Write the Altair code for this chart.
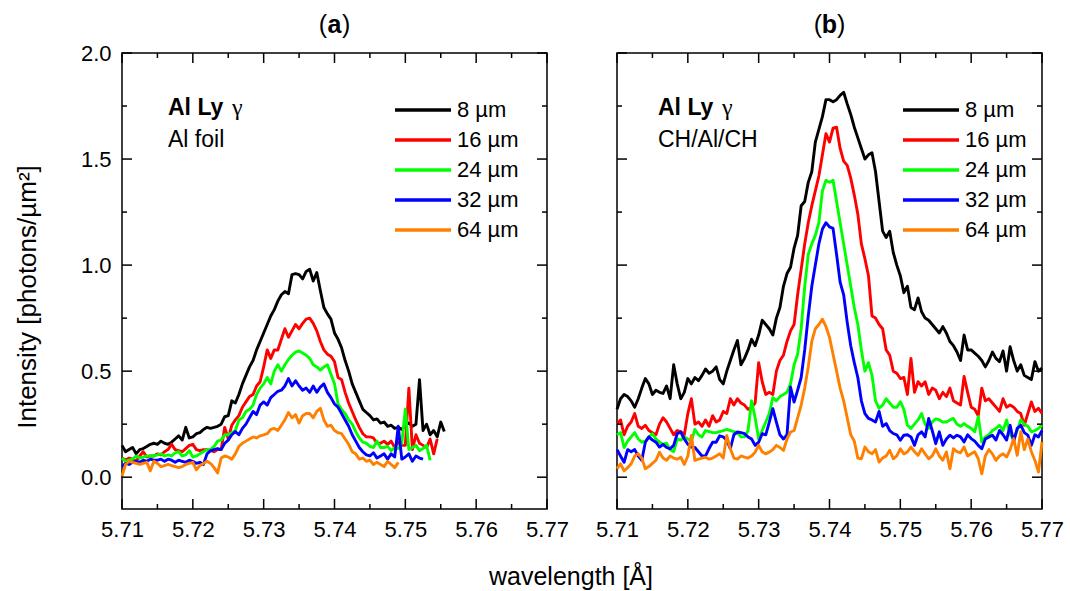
import altair as alt
import pandas as pd

FONT = "Liberation Sans"
WL0 = 5.71
STEP = 0.0005

names = ["8 µm", "16 µm", "24 µm", "32 µm", "64 µm"]
colors = ["#000000", "#ff0000", "#00ff00", "#0000ff", "#ff8000"]

x_major = [5.71, 5.72, 5.73, 5.74, 5.75, 5.76, 5.77]
x_minor = [5.715, 5.725, 5.735, 5.745, 5.755, 5.765]
y_major = [0.0, 0.5, 1.0, 1.5, 2.0]
y_minor = [0.25, 0.75, 1.25, 1.75]

# ---------- panel (a): Al foil ----------
black_a = [0.15,0.12,0.13,0.14,0.11,0.13,0.135,0.145,0.155,0.16,
0.155,0.17,0.16,0.155,0.165,0.18,0.195,0.175,0.235,0.185,
0.19,0.205,0.21,0.225,0.235,0.23,0.235,0.24,0.25,0.285,
0.29,0.36,0.35,0.39,0.44,0.48,0.52,0.55,0.6,0.64,
0.68,0.72,0.76,0.79,0.83,0.86,0.875,0.865,0.955,0.96,
0.955,0.935,0.97,0.98,0.925,0.965,0.88,0.8,0.77,0.745,
0.68,0.65,0.61,0.55,0.5,0.44,0.4,0.36,0.32,0.305,
0.29,0.27,0.275,0.255,0.26,0.24,0.245,0.23,0.235,0.225,
0.245,0.255,0.24,0.25,0.46,0.22,0.25,0.2,0.22,0.19,
0.26,0.215]
red_a = [0.09,0.08,0.09,0.085,0.075,0.1,0.12,0.095,0.1,0.1,
0.11,0.105,0.12,0.13,0.155,0.13,0.125,0.12,0.135,0.15,
0.155,0.13,0.125,0.13,0.13,0.125,0.12,0.13,0.13,0.235,
0.18,0.245,0.27,0.29,0.33,0.355,0.38,0.39,0.43,0.45,
0.52,0.6,0.56,0.6,0.6,0.65,0.7,0.66,0.69,0.72,
0.7,0.725,0.745,0.75,0.725,0.69,0.64,0.6,0.58,0.57,
0.545,0.47,0.46,0.4,0.35,0.31,0.27,0.235,0.205,0.19,
0.19,0.185,0.16,0.16,0.17,0.155,0.17,0.14,0.165,0.15,
0.15,0.42,0.13,0.2,0.16,0.15,0.14,0.18,0.11,0.18]
green_a = [0.09,0.075,0.08,0.085,0.1,0.09,0.095,0.1,0.1,0.1,
0.105,0.11,0.1,0.105,0.1,0.115,0.12,0.1,0.105,0.125,
0.095,0.1,0.11,0.12,0.13,0.13,0.145,0.17,0.175,0.2,
0.2,0.21,0.22,0.27,0.28,0.31,0.32,0.34,0.39,0.42,
0.44,0.47,0.44,0.5,0.53,0.5,0.53,0.555,0.575,0.59,
0.595,0.585,0.575,0.56,0.53,0.52,0.505,0.52,0.53,0.485,
0.44,0.345,0.32,0.3,0.27,0.25,0.215,0.185,0.165,0.16,
0.145,0.14,0.17,0.14,0.14,0.145,0.125,0.14,0.135,0.16,
0.32,0.13,0.14,0.15,0.125,0.135,0.15,0.08]
blue_a = [0.05,0.065,0.06,0.07,0.075,0.07,0.08,0.075,0.085,0.08,
0.08,0.085,0.075,0.085,0.08,0.07,0.08,0.075,0.07,0.08,
0.075,0.065,0.07,0.06,0.11,0.125,0.13,0.135,0.13,0.16,
0.175,0.2,0.215,0.2,0.23,0.25,0.28,0.31,0.295,0.34,
0.355,0.34,0.375,0.39,0.405,0.41,0.43,0.465,0.43,0.455,
0.43,0.41,0.42,0.4,0.43,0.4,0.425,0.44,0.4,0.375,
0.345,0.33,0.3,0.27,0.24,0.2,0.17,0.14,0.12,0.105,
0.1,0.115,0.09,0.1,0.11,0.085,0.11,0.095,0.24,0.085,
0.095,0.11,0.075,0.1,0.09,0.085]
orange_a = [0.005,0.06,0.075,0.07,0.065,0.06,0.065,0.07,0.03,0.075,
0.065,0.05,0.055,0.06,0.055,0.05,0.045,0.05,0.06,0.065,
0.07,0.035,0.055,0.065,0.075,0.065,0.045,0.02,0.09,0.1,
0.095,0.085,0.11,0.145,0.16,0.17,0.18,0.19,0.185,0.195,
0.2,0.205,0.225,0.23,0.22,0.245,0.27,0.305,0.28,0.295,
0.255,0.29,0.3,0.3,0.28,0.31,0.325,0.27,0.24,0.245,
0.22,0.21,0.205,0.18,0.155,0.12,0.11,0.085,0.09,0.075,
0.08,0.06,0.07,0.06,0.05,0.075,0.06,0.045,0.07]

# ---------- panel (b): CH/Al/CH ----------
black_b = [0.32,0.37,0.39,0.38,0.36,0.33,0.37,0.42,0.465,0.44,
0.39,0.41,0.4,0.395,0.43,0.37,0.53,0.44,0.37,0.4,
0.465,0.44,0.47,0.455,0.48,0.51,0.49,0.5,0.52,0.46,
0.44,0.5,0.55,0.6,0.645,0.53,0.56,0.6,0.65,0.62,
0.67,0.74,0.72,0.7,0.67,0.75,0.8,0.9,0.96,0.99,
1.08,1.14,1.28,1.3,1.39,1.44,1.58,1.64,1.7,1.78,
1.78,1.77,1.78,1.8,1.815,1.76,1.71,1.65,1.6,1.55,
1.5,1.52,1.53,1.44,1.3,1.16,1.13,1.16,1.06,1.0,
0.95,0.87,0.9,0.8,0.79,0.845,0.78,0.75,0.74,0.72,
0.7,0.68,0.71,0.68,0.64,0.62,0.59,0.55,0.67,0.6,
0.6,0.585,0.57,0.55,0.52,0.55,0.59,0.56,0.545,0.595,
0.5,0.615,0.55,0.5,0.53,0.48,0.47,0.46,0.545,0.5,
0.515]
red_b = [0.25,0.27,0.2,0.24,0.26,0.3,0.24,0.23,0.245,0.22,
0.21,0.2,0.25,0.28,0.26,0.23,0.2,0.22,0.215,0.2,
0.3,0.37,0.25,0.26,0.24,0.27,0.24,0.29,0.26,0.27,
0.31,0.3,0.37,0.34,0.37,0.35,0.34,0.32,0.33,0.35,
0.54,0.45,0.39,0.4,0.39,0.5,0.55,0.575,0.64,0.69,
0.72,0.86,0.98,1.1,1.2,1.28,1.35,1.42,1.52,1.62,
1.58,1.646,1.65,1.55,1.49,1.47,1.41,1.33,1.24,1.1,
1.03,0.95,0.76,0.75,0.72,0.7,0.6,0.575,0.5,0.49,
0.465,0.47,0.39,0.56,0.4,0.45,0.43,0.45,0.39,0.42,
0.41,0.37,0.4,0.38,0.42,0.36,0.35,0.34,0.475,0.4,
0.33,0.32,0.29,0.42,0.36,0.37,0.35,0.33,0.31,0.37,
0.33,0.34,0.33,0.31,0.3,0.245,0.3,0.355,0.31,0.325,
0.3]
green_b = [0.2,0.21,0.14,0.17,0.19,0.21,0.18,0.165,0.17,0.19,
0.205,0.18,0.165,0.155,0.16,0.13,0.12,0.18,0.175,0.19,
0.18,0.17,0.225,0.2,0.19,0.22,0.215,0.21,0.21,0.215,
0.22,0.225,0.22,0.215,0.21,0.19,0.19,0.22,0.36,0.28,
0.18,0.22,0.26,0.3,0.375,0.36,0.38,0.39,0.4,0.44,
0.53,0.58,0.7,0.9,1.05,1.1,1.14,1.2,1.35,1.4,
1.39,1.4,1.3,1.2,1.1,1.0,0.9,0.8,0.72,0.6,
0.5,0.54,0.48,0.36,0.325,0.34,0.37,0.35,0.33,0.33,
0.356,0.32,0.245,0.23,0.25,0.27,0.3,0.25,0.23,0.26,
0.275,0.27,0.26,0.26,0.27,0.277,0.25,0.24,0.253,0.24,
0.23,0.214,0.285,0.166,0.19,0.2,0.22,0.23,0.245,0.22,
0.27,0.2,0.182,0.22,0.27,0.25,0.24,0.214,0.22,0.23,
0.245]
blue_b = [0.13,0.1,0.07,0.13,0.12,0.13,0.1,0.08,0.165,0.19,
0.175,0.165,0.142,0.155,0.14,0.134,0.15,0.205,0.213,0.18,
0.155,0.142,0.14,0.12,0.1,0.1,0.135,0.165,0.165,0.195,
0.19,0.175,0.134,0.2,0.213,0.21,0.205,0.19,0.18,0.15,
0.165,0.205,0.2,0.26,0.323,0.26,0.2,0.18,0.2,0.425,
0.354,0.41,0.47,0.6,0.76,0.9,1.0,1.1,1.17,1.2,
1.18,1.173,1.05,0.92,0.86,0.73,0.62,0.54,0.47,0.36,
0.3,0.277,0.27,0.26,0.31,0.24,0.253,0.22,0.206,0.2,
0.174,0.198,0.2,0.19,0.15,0.2,0.214,0.19,0.277,0.22,
0.158,0.214,0.15,0.18,0.198,0.185,0.198,0.19,0.166,0.2,
0.182,0.17,0.15,0.134,0.18,0.19,0.198,0.175,0.22,0.2,
0.175,0.245,0.166,0.23,0.245,0.21,0.198,0.15,0.2,0.19,
0.22]
orange_b = [0.04,0.063,0.03,0.045,0.063,0.1,0.11,0.09,0.04,0.05,
0.065,0.08,0.118,0.09,0.08,0.1,0.09,0.085,0.094,0.06,
0.1,0.197,0.079,0.085,0.09,0.094,0.085,0.09,0.1,0.11,
0.09,0.197,0.134,0.09,0.085,0.1,0.095,0.09,0.1,0.118,
0.15,0.12,0.11,0.118,0.13,0.15,0.14,0.126,0.18,0.213,
0.22,0.28,0.34,0.42,0.52,0.64,0.7,0.72,0.745,0.71,
0.66,0.58,0.5,0.42,0.36,0.28,0.2,0.17,0.09,0.087,
0.142,0.12,0.11,0.13,0.071,0.09,0.1,0.127,0.087,0.1,
0.134,0.11,0.119,0.142,0.12,0.103,0.134,0.11,0.087,0.1,
0.134,0.1,0.08,0.119,0.04,0.134,0.12,0.115,0.142,0.1,
0.11,0.12,0.087,0.016,0.1,0.13,0.11,0.079,0.1,0.11,
0.095,0.13,0.182,0.103,0.214,0.13,0.18,0.12,0.079,0.024,
0.166]

W, H = 425, 456
MAJ, MIN = 10, 5

xscale = alt.Scale(domain=[5.71, 5.77], nice=False, zero=False)
yscale = alt.Scale(domain=[-0.15, 2.0], nice=False, zero=False)

XAXIS = alt.Axis(values=x_major, format=".2f", ticks=False, domain=False, grid=False,
                 labelFont=FONT, labelFontSize=22, labelColor="black",
                 labelPadding=10, labelFlush=False, title=None)
YAXIS = alt.Axis(values=y_major, format=".1f", ticks=False, domain=False,
                 grid=False, labelFont=FONT, labelFontSize=22,
                 labelColor="black", labelPadding=11, title=None)


def make_frame(series):
    rows = []
    for k, (name, vals) in enumerate(zip(names, series)):
        for i, v in enumerate(vals):
            rows.append({"wl": round(WL0 + STEP * i, 4), "I": v, "s": name, "k": k})
    return pd.DataFrame(rows)


def one(text):
    return pd.DataFrame({"t": [text]})


def text_layer(text, x, y, size, weight="normal", align="left", baseline="alphabetic",
               font=FONT, angle=0):
    return alt.Chart(one(text)).mark_text(
        font=font, fontSize=size, fontWeight=weight, align=align,
        baseline=baseline, color="black", angle=angle
    ).encode(text="t:N", x=alt.value(x), y=alt.value(y))


def ychan(field, show_y):
    if show_y:
        return alt.Y(field, scale=yscale, axis=YAXIS)
    return alt.Y(field, scale=yscale, axis=None)


def yticks(vals, x0, x1, show_y):
    return alt.Chart(pd.DataFrame({"v": vals})).mark_rule(color="black", strokeWidth=1.5).encode(
        y=ychan("v:Q", show_y), x=alt.value(x0), x2=alt.value(x1))


def xticks(vals, y0, y1):
    return alt.Chart(pd.DataFrame({"v": vals})).mark_rule(color="black", strokeWidth=1.5).encode(
        x=alt.X("v:Q", scale=xscale, axis=XAXIS), y=alt.value(y0), y2=alt.value(y1))


def panel(series, letter, line2, ann_x, gamma_x, leg_x0, leg_x1, show_y, extra):
    df = make_frame(series)
    lines = alt.Chart(df).mark_line(strokeWidth=2.9, strokeJoin="round").encode(
        x=alt.X("wl:Q", scale=xscale, axis=XAXIS),
        y=ychan("I:Q", show_y),
        color=alt.Color("s:N", scale=alt.Scale(domain=names, range=colors), legend=None),
        detail="k:N",
    )
    layers = [lines,
              yticks(y_major, 0, MAJ, show_y), yticks(y_minor, 0, MIN, show_y),
              yticks(y_major, W, W - MAJ, show_y), yticks(y_minor, W, W - MIN, show_y),
              xticks(x_major, H, H - MAJ), xticks(x_minor, H, H - MIN),
              xticks(x_major, 0, MAJ), xticks(x_minor, 0, MIN)]
    # panel title  (a) / (b)
    half = 7.5
    layers += [text_layer("(", W / 2 - half, -28, 25, align="right", baseline="middle"),
               text_layer(letter, W / 2, -28, 25, weight="bold", align="center", baseline="middle"),
               text_layer(")", W / 2 + half, -28, 25, align="left", baseline="middle")]
    # annotation
    layers += [text_layer("Al Ly", ann_x, 62, 23, weight="bold"),
               text_layer("γ", gamma_x, 62, 24, font="Liberation Serif"),
               text_layer(line2, ann_x, 94, 23)]
    # legend
    for i, (name, col) in enumerate(zip(names, colors)):
        yy = 57 + 30 * i
        layers.append(alt.Chart(one(name)).mark_rule(color=col, strokeWidth=3.5).encode(
            x=alt.value(leg_x0), x2=alt.value(leg_x1), y=alt.value(yy)))
        layers.append(text_layer(name, leg_x1 + 6, yy, 22, baseline="middle"))
    layers += extra
    return alt.layer(*layers).properties(width=W, height=H)


ytitle = text_layer("Intensity [photons/µm²]", -94, 244, 26, align="center",
                    baseline="middle", angle=270)
xtitle = text_layer("wavelength [Å]", -46, 532, 25, align="center")

pa = panel([black_a, red_a, green_a, blue_a, orange_a], "a", "Al foil",
           46, 110, 273, 329, True, [ytitle])
pb = panel([black_b, red_b, green_b, blue_b, orange_b], "b", "CH/Al/CH",
           41, 105, 286, 342, False, [xtitle])

chart = alt.hconcat(pa, pb, spacing=70, bounds="flush").properties(
    padding={"left": 14, "top": 12, "right": 5, "bottom": 3},
    background="white",
).configure_view(stroke="black", strokeWidth=1.5)

chart.save("out.html", embed_options={"renderer": "svg", "actions": False})
